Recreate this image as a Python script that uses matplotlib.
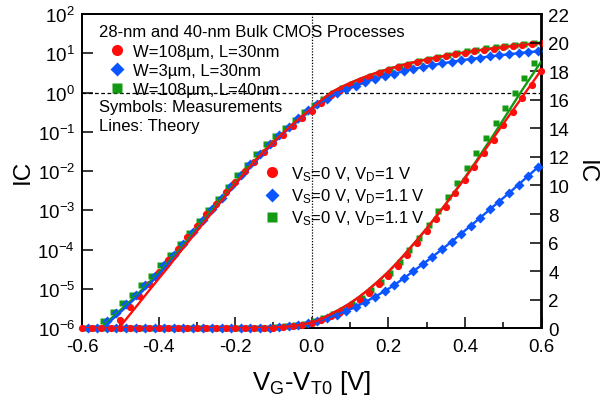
import numpy as np
import matplotlib
matplotlib.use("Agg")
import matplotlib.pyplot as plt
from matplotlib.lines import Line2D
from matplotlib.ticker import MultipleLocator, NullLocator, LogLocator

plt.rcParams['font.family'] = ['Liberation Sans', 'DejaVu Sans']
plt.rcParams['mathtext.fontset'] = 'custom'
plt.rcParams['mathtext.rm'] = 'Liberation Sans'
plt.rcParams['mathtext.it'] = 'Liberation Sans:italic'
plt.rcParams['mathtext.default'] = 'regular'
plt.rcParams['axes.unicode_minus'] = False

# ---- gate overdrive grids (V) ----
x_red = np.linspace(-0.6, 0.6, 49)
x_green = np.linspace(-0.595, 0.58, 48)
x_blue = np.linspace(-0.585, 0.59, 48)
x_theory = np.linspace(-0.6, 0.6, 49)

# ---- measured inversion coefficient ----
ic_red_meas = [3.0e-8, 6.0e-8, 1.5e-7, 7.0e-7, 1.66e-6, 3.4e-6, 6.8e-6, 1.35e-5,
               2.7e-5, 5.4e-5, 1.07e-4, 2.1e-4, 4.1e-4, 7.9e-4, 1.5e-3, 2.9e-3,
               5.4e-3, 9.8e-3, 0.0174, 0.030, 0.051, 0.085, 0.138, 0.22,
               0.34, 0.55, 0.86, 1.17, 1.56, 2.0, 2.49, 3.07,
               3.68, 4.38, 5.12, 5.94, 6.8, 7.65, 8.52, 9.45,
               10.36, 11.3, 12.27, 13.2, 14.2, 15.15, 16.1, 17.05, 18.0]
ic_blue_meas = [5.0e-7, 8.9e-7, 1.5e-6, 2.5e-6, 4.2e-6, 7.1e-6, 1.23e-5, 2.2e-5,
                4.0e-5, 7.4e-5, 1.41e-4, 2.8e-4, 5.6e-4, 1.10e-3, 2.1e-3, 4.2e-3,
                7.9e-3, 0.0148, 0.0269, 0.048, 0.081, 0.135, 0.22, 0.35,
                0.51, 0.70, 0.95, 1.20, 1.50, 1.84, 2.20, 2.58,
                3.02, 3.49, 3.99, 4.48, 5.00, 5.53, 6.05, 6.61,
                7.17, 7.73, 8.32, 8.87, 9.45, 10.05, 10.65, 11.3]
ic_green_meas = [5.0e-7, 8.9e-7, 1.55e-6, 2.6e-6, 4.3e-6, 7.2e-6, 1.23e-5, 2.2e-5,
                 4.0e-5, 7.2e-5, 1.38e-4, 2.7e-4, 5.4e-4, 1.05e-3, 2.0e-3, 4.0e-3,
                 7.8e-3, 0.0145, 0.0269, 0.048, 0.079, 0.126, 0.204, 0.32,
                 0.48, 0.70, 1.0, 1.28, 1.68, 2.14, 2.67, 3.26,
                 3.89, 4.66, 5.47, 6.33, 7.21, 8.23, 9.2, 10.2,
                 11.2, 12.25, 13.3, 14.35, 15.4, 16.5, 17.5, 18.6]

# ---- model curves ----
ic_red_theory = [6.9e-8, 1.38e-7, 2.75e-7, 5.6e-7, 1.12e-6, 2.24e-6, 4.5e-6, 9.1e-6,
                 1.82e-5, 3.6e-5, 7.4e-5, 1.48e-4, 2.95e-4, 5.9e-4, 1.17e-3, 2.34e-3,
                 4.7e-3, 9.1e-3, 0.0174, 0.0316, 0.055, 0.093, 0.155, 0.25,
                 0.40, 0.64, 1.0, 1.35, 1.75, 2.22, 2.75, 3.33,
                 3.95, 4.65, 5.4, 6.18, 6.98, 7.83, 8.7, 9.6,
                 10.5, 11.45, 12.4, 13.35, 14.3, 15.25, 16.2, 17.15, 18.1]
ic_blue_theory = [2.6e-7, 5.2e-7, 9.1e-7, 1.55e-6, 2.57e-6, 4.3e-6, 7.4e-6, 1.29e-5,
                  2.3e-5, 4.3e-5, 7.9e-5, 1.55e-4, 3.1e-4, 6.2e-4, 1.2e-3, 2.34e-3,
                  4.6e-3, 8.7e-3, 0.0162, 0.0295, 0.052, 0.089, 0.148, 0.24,
                  0.39, 0.58, 0.80, 1.06, 1.33, 1.64, 1.99, 2.36,
                  2.76, 3.21, 3.69, 4.19, 4.69, 5.21, 5.74, 6.28,
                  6.84, 7.4, 7.97, 8.55, 9.12, 9.7, 10.3, 10.9, 11.5]
ic_green_theory = [2.95e-7, 5.9e-7, 1.02e-6, 1.74e-6, 2.9e-6, 4.8e-6, 8.3e-6, 1.45e-5,
                   2.6e-5, 4.8e-5, 8.9e-5, 1.74e-4, 3.5e-4, 6.9e-4, 1.35e-3, 2.6e-3,
                   5.1e-3, 9.8e-3, 0.0182, 0.033, 0.058, 0.095, 0.158, 0.25,
                   0.40, 0.64, 1.0, 1.35, 1.75, 2.22, 2.75, 3.33,
                   3.95, 4.65, 5.4, 6.18, 6.98, 7.83, 8.7, 9.62,
                   10.56, 11.52, 12.55, 13.55, 14.6, 15.65, 16.7, 17.7, 18.7]

RED = '#ff0d0d'
BLUE = '#0a55ff'
GREEN = '#129a12'

series = [
    (x_green, ic_green_meas, ic_green_theory, GREEN, 's', 4.6),
    (x_blue, ic_blue_meas, ic_blue_theory, BLUE, 'D', 4.8),
    (x_red, ic_red_meas, ic_red_theory, RED, 'o', 5.2),
]

fig = plt.figure(figsize=(6.05, 4.02), dpi=100)
W, H = 605.0, 402.0
ax = fig.add_axes([82 / W, 1 - 329.3 / H, (541.5 - 82) / W, (329.3 - 15) / H])
ax2 = ax.twinx()

# log-scale view (left axis)
for xs, meas, th, col, mk, ms in series:
    ax.plot(xs, meas, ls='none', marker=mk, ms=ms, mfc=col, mec='none', zorder=3)
for xs, meas, th, col, mk, ms in series:
    ax.plot(x_theory, th, color=col, lw=1.7, zorder=4)

# linear-scale view (right axis)
for xs, meas, th, col, mk, ms in series:
    ax2.plot(xs, meas, ls='none', marker=mk, ms=ms, mfc=col, mec='none',
             zorder=3, clip_on=False)
for xs, meas, th, col, mk, ms in series:
    ax2.plot(x_theory, th, color=col, lw=1.7, zorder=4)

ax.set_yscale('log')
ax.set_ylim(1e-6, 1e2)
ax.set_xlim(-0.6, 0.6)
ax2.set_ylim(0, 22)

ax.axhline(1.0, color='black', lw=0.9, ls=(0, (3, 2)), zorder=2)
ax.axvline(0.0, color='black', lw=0.9, ls=(0, (1, 1.3)), zorder=2)

ax.yaxis.set_major_locator(LogLocator(base=10, numticks=20))
ax.yaxis.set_minor_locator(NullLocator())
ax.xaxis.set_major_locator(MultipleLocator(0.2))
ax.xaxis.set_minor_locator(MultipleLocator(0.1))
ax.xaxis.set_major_formatter(matplotlib.ticker.FormatStrFormatter('%.1f'))
ax2.yaxis.set_major_locator(MultipleLocator(2))
ax2.yaxis.set_minor_locator(NullLocator())

ax.tick_params(axis='both', which='major', direction='in', length=8, width=1.1,
               labelsize=13.5, top=False, right=False)
ax.tick_params(axis='x', which='minor', direction='in', length=4.5, width=1.1, top=False)
ax.tick_params(axis='y', pad=5)
ax.tick_params(axis='x', pad=7)
ax2.tick_params(axis='y', which='major', direction='in', length=8, width=1.1,
                labelsize=13.5, pad=5)

for a in (ax, ax2):
    for s in a.spines.values():
        s.set_linewidth(1.3)

ax.set_xlabel(r'V$_\mathrm{G}$-V$_\mathrm{T0}$ [V]', fontsize=18.5, labelpad=9)
ax.set_ylabel('IC', fontsize=17.5, labelpad=3)
ax2.set_ylabel('IC', fontsize=17.5, rotation=-90, labelpad=20)

# device legend
dev_handles = [Line2D([], [], ls='none', marker='o', ms=8, mfc=RED, mec='none'),
               Line2D([], [], ls='none', marker='D', ms=7.5, mfc=BLUE, mec='none'),
               Line2D([], [], ls='none', marker='s', ms=7, mfc=GREEN, mec='none')]
dev_labels = ['W=108µm, L=30nm', 'W=3µm, L=30nm', 'W=108µm, L=40nm']
leg1 = ax2.legend(dev_handles, dev_labels, loc='upper left', frameon=False,
                  fontsize=12, handlelength=1.0, handletextpad=0.45,
                  labelspacing=0.24, borderpad=0, borderaxespad=0,
                  bbox_to_anchor=((108.5 - 82) / 459.5, (329.3 - 45) / 314.3))
ax2.add_artist(leg1)

# bias legend
bias_labels = [r'V$_\mathrm{S}$=0 V, V$_\mathrm{D}$=1 V',
               r'V$_\mathrm{S}$=0 V, V$_\mathrm{D}$=1.1 V',
               r'V$_\mathrm{S}$=0 V, V$_\mathrm{D}$=1.1 V']
ax2.legend(dev_handles, bias_labels, loc='upper left', frameon=False,
           fontsize=12, handlelength=1.0, handletextpad=0.6,
           labelspacing=0.22, borderpad=0, borderaxespad=0,
           bbox_to_anchor=((264 - 82) / 459.5, (329.3 - 165) / 314.3))

ax2.text((99 - 82) / 459.5, (329.3 - 37) / 314.3,
         '28-nm and 40-nm Bulk CMOS Processes', transform=ax2.transAxes,
         fontsize=12, ha='left', va='baseline')
ax2.text((99 - 82) / 459.5, (329.3 - 112) / 314.3, 'Symbols: Measurements',
         transform=ax2.transAxes, fontsize=12, ha='left', va='baseline')
ax2.text((99 - 82) / 459.5, (329.3 - 131) / 314.3, 'Lines: Theory',
         transform=ax2.transAxes, fontsize=12, ha='left', va='baseline')

fig.savefig('out.png', dpi=100)
